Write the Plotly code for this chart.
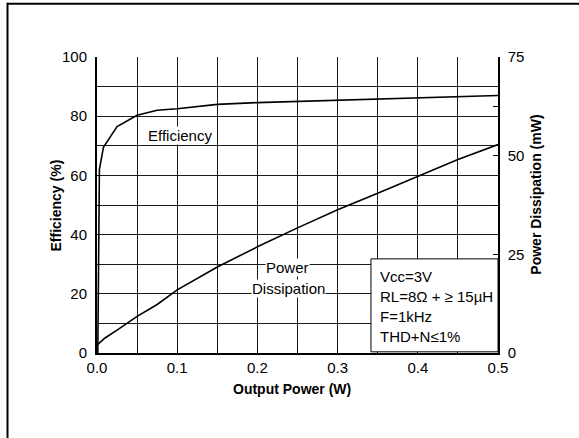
import plotly.graph_objects as go

# Data
eff_x = [0.001, 0.002, 0.003, 0.008, 0.025, 0.05, 0.075, 0.1, 0.15, 0.2, 0.3, 0.4, 0.5]
eff_y = [0.0, 50.0, 62.0, 69.5, 76.5, 80.3, 82.0, 82.5, 84.0, 84.6, 85.4, 86.2, 87.0]

pd_x = [0.0, 0.01, 0.025, 0.05, 0.075, 0.1, 0.15, 0.2, 0.25, 0.3, 0.35, 0.4, 0.45, 0.5]
pd_y = [2.0, 3.8, 5.8, 9.3, 12.3, 16.0, 21.8, 26.9, 31.7, 36.3, 40.5, 44.7, 49.0, 52.8]

x_ticks = [0.0, 0.1, 0.2, 0.3, 0.4, 0.5]
x_ticktext = ["0.0", "0.1", "0.2", "0.3", "0.4", "0.5"]
y_ticks = [0, 20, 40, 60, 80, 100]
y2_ticks = [0, 25, 50, 75]

cond_lines = ["Vcc=3V", "RL=8\u03a9 + \u2265 15\u00b5H", "F=1kHz", "THD+N\u22641%"]
cond_y = [25.8, 19.1, 12.5, 5.7]

FONT = "Arial, Liberation Sans, Helvetica, sans-serif"

fig = go.Figure()
fig.add_trace(go.Scatter(x=eff_x, y=eff_y, mode="lines",
                         line=dict(color="black", width=1.6), yaxis="y",
                         showlegend=False, hoverinfo="skip"))
fig.add_trace(go.Scatter(x=pd_x, y=pd_y, mode="lines",
                         line=dict(color="black", width=1.6), yaxis="y2",
                         showlegend=False, hoverinfo="skip"))

grid_col = "#1a1a1a"

fig.update_layout(
    width=579, height=438,
    margin=dict(l=97, r=81, t=57, b=85, pad=0),
    paper_bgcolor="white", plot_bgcolor="white",
    font=dict(family=FONT, color="black", size=15),
    xaxis=dict(range=[0, 0.5], tickvals=x_ticks, ticktext=x_ticktext,
               showgrid=True, gridcolor=grid_col, gridwidth=1,
               minor=dict(dtick=0.05, showgrid=True, gridcolor=grid_col, gridwidth=1,
                          ticks="inside", ticklen=4, tickcolor="black"),
               ticks="inside", ticklen=4, tickcolor="black",
               showline=True, linecolor="black", linewidth=2,
               zeroline=False, ticklabelstandoff=0,
               tickfont=dict(size=15)),
    yaxis=dict(range=[0, 100], tickvals=y_ticks,
               showgrid=True, gridcolor=grid_col, gridwidth=1,
               minor=dict(dtick=10, showgrid=True, gridcolor=grid_col, gridwidth=1),
               ticks="", showline=True, linecolor="black", linewidth=2,
               zeroline=False, ticklabelstandoff=5,
               tickfont=dict(size=15)),
    yaxis2=dict(range=[0, 75], tickvals=y2_ticks, overlaying="y", side="right",
                showgrid=False, zeroline=False,
                ticks="inside", ticklen=5, tickcolor="black",
                minor=dict(dtick=12.5, ticks="inside", ticklen=5, tickcolor="black"),
                showline=True, linecolor="black", linewidth=1.5,
                ticklabelstandoff=5, tickfont=dict(size=15)),
)

# Axis titles
fig.add_annotation(text="<b>Output Power (W)</b>", xref="paper", yref="paper",
                   x=0.4875, y=-0.12, xanchor="center", yanchor="middle",
                   showarrow=False, font=dict(size=14))
fig.add_annotation(text="<b>Efficiency (%)</b>", xref="paper", yref="paper",
                   x=-0.101, y=0.5, xanchor="center", yanchor="middle", textangle=-90,
                   showarrow=False, font=dict(size=14))
fig.add_annotation(text="<b>Power Dissipation (mW)</b>", xref="paper", yref="paper",
                   x=1.0948, y=0.535, xanchor="center", yanchor="middle", textangle=-90,
                   showarrow=False, font=dict(size=14))

# Curve labels
fig.add_annotation(text="Efficiency", x=0.104, y=73.4, xref="x", yref="y",
                   showarrow=False, bgcolor="white", borderpad=0, font=dict(size=15))
fig.add_annotation(text="Power", x=0.2373, y=28.8, xref="x", yref="y",
                   showarrow=False, bgcolor="white", borderpad=0, font=dict(size=15))
fig.add_annotation(text="Dissipation", x=0.2385, y=21.9, xref="x", yref="y",
                   showarrow=False, bgcolor="white", borderpad=0, font=dict(size=15))

# Conditions box
fig.add_shape(type="rect", xref="x", yref="y", x0=0.3416, x1=0.5, y0=0.4, y1=31.8,
              fillcolor="white", line=dict(color="black", width=1), layer="above")
for t, yy in zip(cond_lines, cond_y):
    fig.add_annotation(text=t, x=0.35, y=yy, xref="x", yref="y",
                       xanchor="left", yanchor="middle",
                       showarrow=False, font=dict(size=15))

# Outer frame (top and left edges)
fig.add_shape(type="line", xref="paper", yref="paper", x0=-0.2244, x1=1.21,
              y0=1.180, y1=1.180, line=dict(color="black", width=2))
fig.add_shape(type="line", xref="paper", yref="paper", x0=-0.2232, x1=-0.2232,
              y0=1.183, y1=-0.30, line=dict(color="black", width=2))

fig.write_html("out.html")
